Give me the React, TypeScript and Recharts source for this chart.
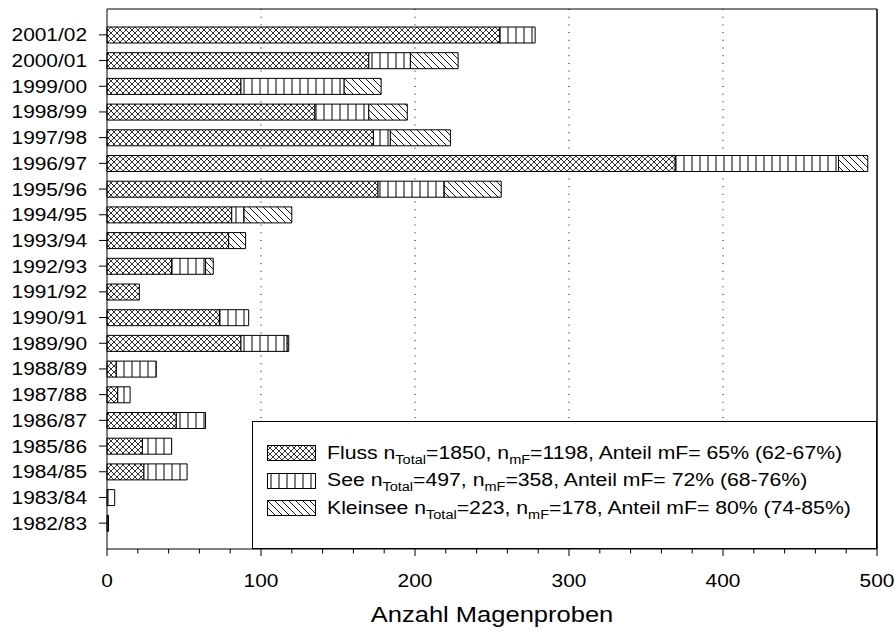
import React from "react";
import {
  BarChart,
  Bar,
  XAxis,
  YAxis,
  CartesianGrid,
  Legend,
  Label,
  ReferenceLine,
} from "recharts";

const years = [
  "2001/02", "2000/01", "1999/00", "1998/99", "1997/98", "1996/97", "1995/96",
  "1994/95", "1993/94", "1992/93", "1991/92", "1990/91", "1989/90", "1988/89",
  "1987/88", "1986/87", "1985/86", "1984/85", "1983/84", "1982/83",
];
const fluss = [255, 170, 87, 135, 173, 369, 176, 81, 79, 42, 21, 73, 87, 6, 7, 45, 23, 24, 0, 0];
const see = [23, 27, 67, 35, 11, 106, 43, 8, 0, 22, 0, 19, 30, 26, 8, 19, 19, 28, 5, 1];
const kleinsee = [0, 31, 24, 25, 39, 19, 37, 31, 11, 5, 0, 0, 1, 0, 0, 0, 0, 0, 0, 0];

const xDomain = [0, 500];
const xTicks = [0, 20, 40, 60, 80, 100, 120, 140, 160, 180, 200, 220, 240, 260, 280, 300, 320, 340, 360, 380, 400, 420, 440, 460, 480, 500];
const gridX = [100, 200, 300, 400];

const seriesNames = ["Fluss", "See", "Kleinsee"];
const nTotal = [1850, 497, 223];
const nMF = [1198, 358, 178];
const share = ["65%", "72%", "80%"];
const ci = ["62-67%", "68-76%", "74-85%"];
const fills = ["url(#pat-cross)", "url(#pat-vert)", "url(#pat-diag)"];

const data = years.map((year, i) => ({
  year,
  fluss: fluss[i],
  see: see[i],
  kleinsee: kleinsee[i],
}));

const FONT = "'Liberation Sans', Arial, Helvetica, sans-serif";
const SX = 1.16;

// dotted grid only at the hundreds, not at every minor tick
const gridCoords = ({ offset }: any) =>
  gridX.map((v) => offset.left + ((v - xDomain[0]) / (xDomain[1] - xDomain[0])) * offset.width);

const Patterns = () => (
  <>
    <pattern id="pat-cross" width={6} height={6} patternUnits="userSpaceOnUse">
      <rect width={6} height={6} fill="#fff" />
      <path d="M-1,-1 L7,7 M7,-1 L-1,7" stroke="#000" strokeWidth={0.8} />
    </pattern>
    <pattern id="pat-vert" width={8} height={8} patternUnits="userSpaceOnUse">
      <rect width={8} height={8} fill="#fff" />
      <path d="M4,0 L4,8" stroke="#000" strokeWidth={1} />
    </pattern>
    <pattern id="pat-diag" width={7} height={7} patternUnits="userSpaceOnUse">
      <rect width={7} height={7} fill="#fff" />
      <path d="M-1,-1 L8,8 M-1,6 L1,8 M6,-1 L8,1" stroke="#000" strokeWidth={0.9} />
    </pattern>
  </>
);

const YTick = (props: any) => {
  const { x, y, payload } = props;
  return (
    <text
      transform={`translate(${x},${y}) scale(${SX},1)`}
      textAnchor="end"
      dy={6.5}
      fontSize={18}
      fontFamily={FONT}
      fill="#000"
    >
      {payload.value}
    </text>
  );
};

const XTick = (props: any) => {
  const { x, y, payload } = props;
  const major = payload.value % 100 === 0;
  return (
    <g>
      <line x1={x} x2={x} y1={y} y2={y + (major ? 7 : 4.5)} stroke="#000" />
      {major && (
        <text
          transform={`translate(${x},${y + 38}) scale(${SX},1)`}
          textAnchor="middle"
          fontSize={18}
          fontFamily={FONT}
          fill="#000"
        >
          {payload.value}
        </text>
      )}
    </g>
  );
};

const Sub = ({ children }: { children: React.ReactNode }) => (
  <span style={{ fontSize: 12.5, position: "relative", top: 5 }}>{children}</span>
);

const LegendBox = () => (
  <div
    style={{
      boxSizing: "border-box",
      width: "100%",
      height: "100%",
      border: "1px solid #000",
      background: "#fff",
      paddingTop: 18,
      fontFamily: FONT,
      color: "#000",
    }}
  >
    {seriesNames.map((name, i) => (
      <div key={name} style={{ display: "flex", alignItems: "center", height: 27.5 }}>
        <svg width={51} height={17} style={{ marginLeft: 14, flex: "none" }}>
          <rect x={0.5} y={0.5} width={48} height={15} fill={fills[i]} stroke="#000" />
        </svg>
        <span
          style={{
            display: "inline-block",
            marginLeft: 9,
            fontSize: 18.3,
            lineHeight: "20px",
            whiteSpace: "nowrap",
            transform: `scaleX(${SX})`,
            transformOrigin: "left center",
          }}
        >
          {name} n<Sub>Total</Sub>={nTotal[i]}, n<Sub>mF</Sub>={nMF[i]}, Anteil mF= {share[i]} ({ci[i]})
        </span>
      </div>
    ))}
  </div>
);

export default function App() {
  return (
    <div style={{ position: "absolute", left: 0, top: 0, background: "#fff" }}>
      <BarChart
        width={895}
        height={633}
        data={data}
        layout="vertical"
        margin={{ top: 8, right: 8, bottom: 0, left: 0 }}
      >
        <defs>
          <Patterns />
        </defs>
        <CartesianGrid
          horizontal={false}
          stroke="#000"
          strokeDasharray="1 6.7"
          verticalCoordinatesGenerator={gridCoords}
        />
        <XAxis
          type="number"
          domain={xDomain}
          ticks={xTicks}
          interval={0}
          height={84}
          tickSize={0}
          tickMargin={0}
          tickLine={false}
          tick={<XTick />}
          axisLine={{ stroke: "#000" }}
        >
          <Label
            content={({ viewBox }: any) => (
              <text
                transform={`translate(${viewBox.x + viewBox.width / 2},${viewBox.y + 73}) scale(${SX},1)`}
                textAnchor="middle"
                fontSize={22}
                fontFamily={FONT}
                fill="#000"
              >
                Anzahl Magenproben
              </text>
            )}
          />
        </XAxis>
        {/* top edge of the frame */}
        <XAxis
          xAxisId="top"
          orientation="top"
          type="number"
          domain={xDomain}
          height={1}
          tick={false}
          tickLine={false}
          axisLine={{ stroke: "#000" }}
        />
        <YAxis
          type="category"
          dataKey="year"
          width={107}
          padding={{ top: 13, bottom: 13 }}
          tickSize={8}
          tickMargin={12}
          tickLine={{ stroke: "#000" }}
          axisLine={{ stroke: "#000" }}
          tick={<YTick />}
          interval={0}
        />
        {/* right edge of the frame */}
        <YAxis
          yAxisId="right"
          orientation="right"
          type="category"
          dataKey="year"
          width={10}
          tick={false}
          tickLine={false}
          axisLine={{ stroke: "#000" }}
        />
        <ReferenceLine x={xDomain[1]} stroke="#000" strokeWidth={1} ifOverflow="visible" />
        <Legend
          layout="horizontal"
          verticalAlign="middle"
          align="center"
          content={<LegendBox />}
          wrapperStyle={{ left: 252, top: 421, width: 625, height: 128 }}
        />
        <Bar dataKey="fluss" stackId="a" fill={fills[0]} stroke="#000" strokeWidth={1} barSize={16} isAnimationActive={false} />
        <Bar dataKey="see" stackId="a" fill={fills[1]} stroke="#000" strokeWidth={1} barSize={16} isAnimationActive={false} />
        <Bar dataKey="kleinsee" stackId="a" fill={fills[2]} stroke="#000" strokeWidth={1} barSize={16} isAnimationActive={false} />
      </BarChart>
    </div>
  );
}
